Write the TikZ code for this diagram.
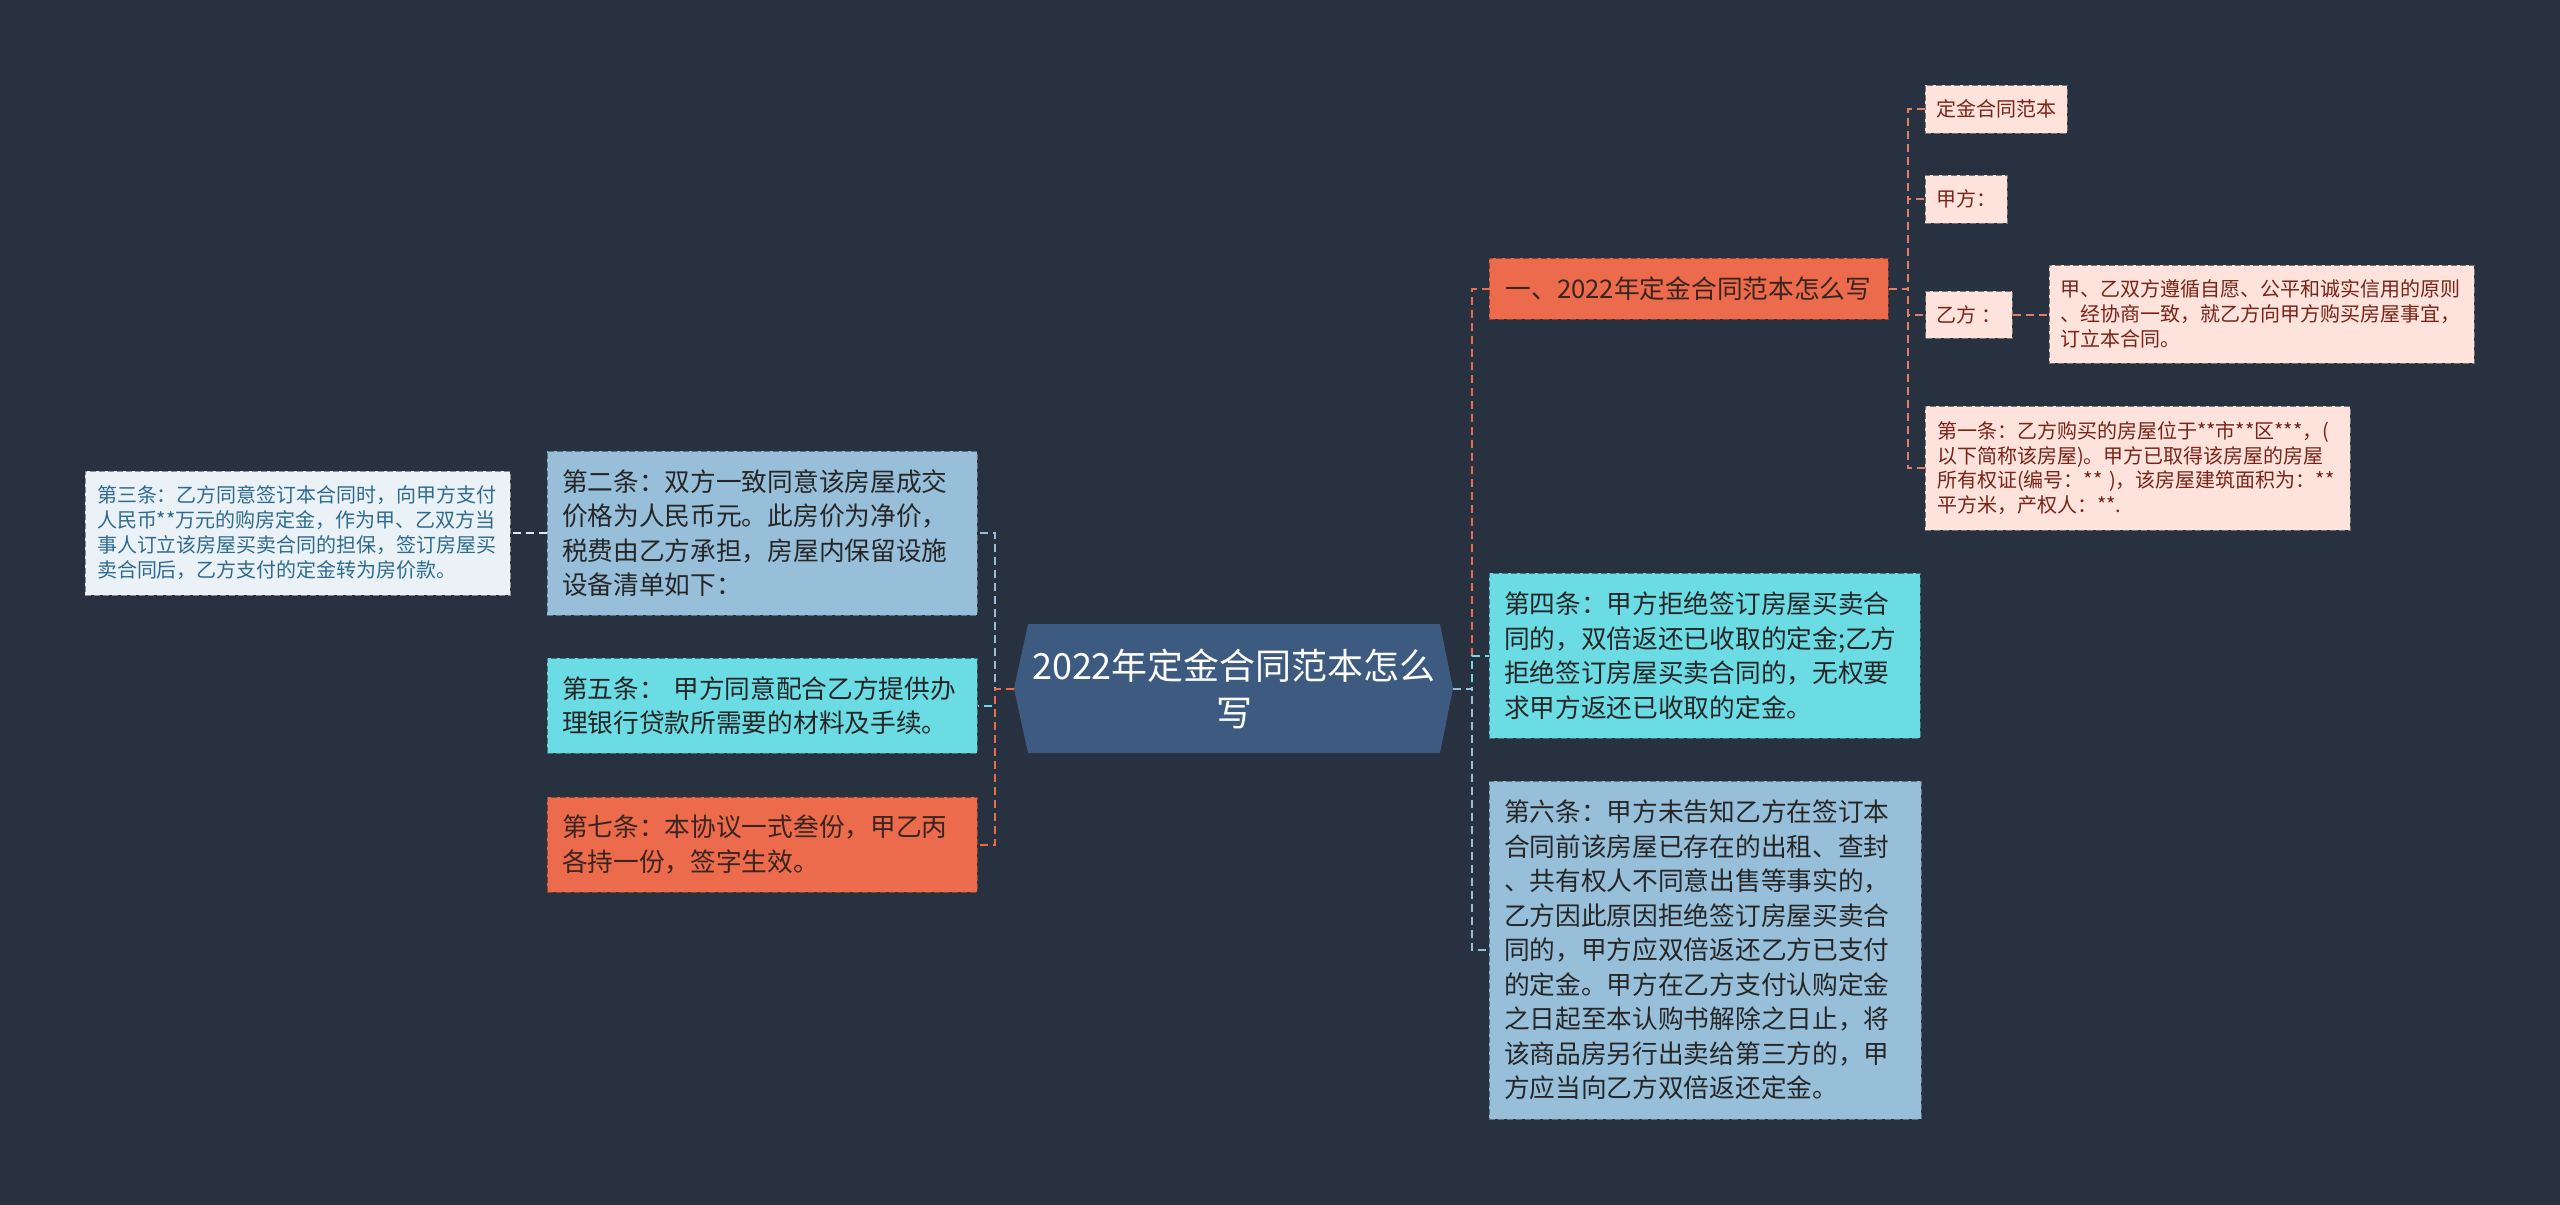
\documentclass[tikz,border=0pt]{standalone}
\usepackage{fontspec}
\setmainfont{Noto Sans CJK SC}
\definecolor{bg}{HTML}{283140}
\definecolor{cfill}{HTML}{3D5A80}
\definecolor{corange}{HTML}{EB6B4C}
\definecolor{ccyan}{HTML}{6BDCE3}
\definecolor{cblue}{HTML}{97BFD9}
\definecolor{cpink}{HTML}{FDE3DB}
\definecolor{cpale}{HTML}{EAF2F7}
\definecolor{csalmon}{HTML}{E07F66}
\definecolor{tdark}{HTML}{262626}
\definecolor{tbrown}{HTML}{3A2420}
\definecolor{tred}{HTML}{7A2418}
\definecolor{tteal}{HTML}{2F6B8F}
\tikzset{
  box/.style={rectangle, dash pattern=on 3pt off 1.5pt, line width=0.5pt, inner ysep=0pt, align=left},
  mainbox/.style={box, font=\fontsize{12.85pt}{17.25pt}\selectfont, inner xsep=7.5pt},
  smallbox/.style={box, font=\fontsize{10pt}{12.35pt}\selectfont},
  bluebox/.style={mainbox, fill=cblue, draw=cblue!60!black, text=tdark},
  cyanbox/.style={mainbox, fill=ccyan, draw=ccyan!55!black, text=tdark},
  orangebox/.style={mainbox, fill=corange, draw=corange!60!black, text=tbrown},
  pinkbox/.style={smallbox, fill=cpink, draw=black!55, text=tred},
  palebox/.style={box, font=\fontsize{10pt}{12.5pt}\selectfont, fill=cpale, draw=black!45, text=tteal},
  conn/.style={dash pattern=on 4pt off 2.5pt, line width=1pt},
}
\begin{document}
\begin{tikzpicture}[x=0.5pt,y=-0.5pt]
\fill[bg] (0,0) rectangle (2560,1205);
\useasboundingbox (0,0) rectangle (2560,1205);

% central node
\fill[cfill] (1028,624) -- (1440,624) -- (1453,688.5) -- (1440,753) -- (1028,753) -- (1014,688.5) -- cycle;
\coordinate (cL) at (1014,688.5);
\coordinate (cR) at (1453,688.5);
\node[align=center, text=white, font=\fontsize{18pt}{23.5pt}\selectfont, minimum width=206pt, minimum height=64.5pt, inner sep=0pt] (c) at (1234,688.5) {2022年定金合同范本怎么\\写};

% left side
\node[bluebox, text width=200pt, minimum height=82pt] (s2) at (762,533) {第二条：双方一致同意该房屋成交\\价格为人民币元。此房价为净价，\\税费由乙方承担，房屋内保留设施\\设备清单如下：};
\node[cyanbox, text width=200pt, minimum height=47.5pt] (s5) at (762,705.5) {第五条：~甲方同意配合乙方提供办\\理银行贷款所需要的材料及手续。};
\node[orangebox, text width=200pt, minimum height=47.5pt] (s7) at (762,844.5) {第七条：本协议一式叁份，甲乙丙\\各持一份，签字生效。};
\node[palebox, text width=200.5pt, inner xsep=6pt, minimum height=62pt] (s3) at (297.5,533) {第三条：乙方同意签订本合同时，向甲方支付\\人民币**万元的购房定金，作为甲、乙双方当\\事人订立该房屋买卖合同的担保，签订房屋买\\卖合同后，乙方支付的定金转为房价款。};

% right side
\node[orangebox, align=center, minimum width=199.5pt, minimum height=30.5pt] (h1) at (1688.5,288.5) {一、2022年定金合同范本怎么写};
\node[cyanbox, text width=200.5pt, minimum height=82.5pt] (s4) at (1704.5,655.5) {第四条：甲方拒绝签订房屋买卖合\\同的，双倍返还已收取的定金;乙方\\拒绝签订房屋买卖合同的，无权要\\求甲方返还已收取的定金。};
\node[bluebox, text width=201pt, minimum height=169pt] (s6) at (1705,950) {第六条：甲方未告知乙方在签订本\\合同前该房屋已存在的出租、查封\\、共有权人不同意出售等事实的，\\乙方因此原因拒绝签订房屋买卖合\\同的，甲方应双倍返还乙方已支付\\的定金。甲方在乙方支付认购定金\\之日起至本认购书解除之日止，将\\该商品房另行出卖给第三方的，甲\\方应当向乙方双倍返还定金。};

\node[pinkbox, align=center, inner xsep=5.5pt, minimum height=24pt] (p1) at (1996,109) {定金合同范本};
\node[pinkbox, align=center, inner xsep=5.5pt, minimum height=24pt] (p2) at (1966,199) {甲方：};
\node[pinkbox, align=center, inner xsep=5.5pt, minimum height=23.5pt] (p3) at (1969,314.5) {乙方~：};
\node[pinkbox, text width=201pt, inner xsep=5.75pt, minimum height=49pt] (p4) at (2261.5,314) {甲、乙双方遵循自愿、公平和诚实信用的原则\\、经协商一致，就乙方向甲方购买房屋事宜，\\订立本合同。};
\node[pinkbox, text width=200.5pt, inner xsep=6pt, minimum height=62pt] (p5) at (2137.5,468) {第一条：乙方购买的房屋位于**市**区***，(\\以下简称该房屋)。甲方已取得该房屋的房屋\\所有权证(编号：**~)，该房屋建筑面积为：**\\平方米，产权人：**.};

% connectors, left
\draw[conn, cblue] (cL) -- ++(-9.5pt,0) |- (s2.east);
\draw[conn, ccyan] (cL) -- ++(-9.5pt,0) |- (s5.east);
\draw[conn, corange] (cL) -- ++(-9.5pt,0) |- (s7.east);
\draw[conn, cpale!85!cblue] (s2.west) -- (s3.east);

% connectors, right
\draw[conn, corange] (cR) -- ++(9.5pt,0) |- (h1.west);
\draw[conn, ccyan] (cR) -- ++(9.5pt,0) |- (s4.west);
\draw[conn, cblue] (cR) -- ++(9.5pt,0) |- (s6.west);

\draw[conn, csalmon] (h1.east) -- ++(9.5pt,0) |- (p1.west);
\draw[conn, csalmon] (h1.east) -- ++(9.5pt,0) |- (p2.west);
\draw[conn, csalmon] (h1.east) -- ++(9.5pt,0) |- (p3.west);
\draw[conn, csalmon] (h1.east) -- ++(9.5pt,0) |- (p5.west);
\draw[conn, csalmon] (p3.east) -- (p3.east -| p4.west);
\end{tikzpicture}
\end{document}
